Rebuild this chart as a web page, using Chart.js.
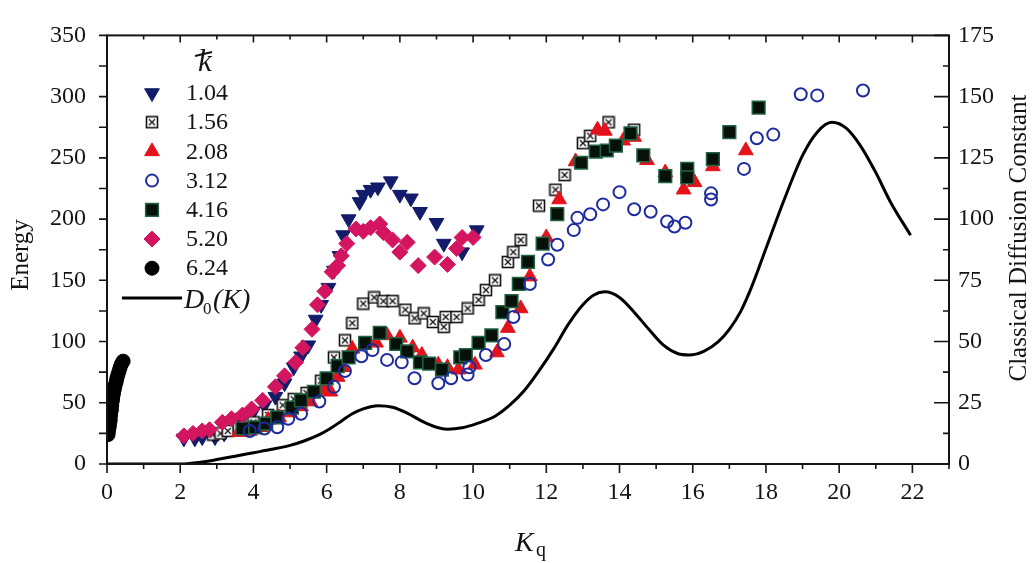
<!DOCTYPE html>
<html>
<head>
<meta charset="utf-8">
<script src="https://cdn.jsdelivr.net/npm/chart.js@4/dist/chart.umd.min.js"></script>
<style>
  html, body { margin: 0; padding: 0; background: #fff; }
  #wrap { width: 1033px; height: 563px; }
</style>
</head>
<body>
<div id="wrap"><canvas id="c" width="1033" height="563"></canvas></div>
<script>
// hbar values shown in the legend
const hbarLabels = ['1.04', '1.56', '2.08', '3.12', '4.16', '5.20', '6.24'];

// Energy vs Kq, one array per hbar
const k104 = [[2.1,21],[2.4,21],[2.6,22],[2.95,22],[3.2,25],[3.5,32],[3.7,38],[4.0,43],[4.3,48],[4.6,55],[4.85,66],[5.1,79],[5.3,88],[5.5,97],[5.7,118],[5.85,130],[6.05,144],[6.2,158],[6.35,170],[6.45,187],[6.6,200],[6.9,214],[7.0,220],[7.2,224],[7.4,226],[7.75,231],[8.0,220],[8.3,217],[8.55,206],[9.0,197],[9.2,180],[9.7,173],[10.1,191]];
const k156 = [[2.9,24],[3.1,25],[3.3,27],[3.6,30],[4.0,34],[4.4,40],[4.8,48],[5.1,53],[5.45,58],[5.85,68],[6.2,87],[6.5,101],[6.7,115],[7.0,131],[7.3,136],[7.55,133],[7.8,133],[8.15,126],[8.4,119],[8.65,123],[8.9,116],[9.2,112],[9.25,120],[9.55,120],[9.85,127],[10.15,134],[10.35,142],[10.6,150],[10.95,165],[11.1,173],[11.3,183],[11.8,211],[12.25,224],[12.5,236],[13.0,262],[13.2,268],[13.7,279],[14.4,273]];
const k208 = [[3.6,26],[3.9,27],[4.2,30],[4.4,36],[4.7,38],[5.0,42],[5.3,47],[5.55,51],[5.95,60],[6.1,59],[6.3,71],[6.45,79],[6.7,94],[7.35,99],[7.65,105],[8.0,103],[8.35,95],[8.6,89],[9.05,81],[9.3,79],[9.6,77],[10.05,81],[10.65,91],[10.95,111],[11.3,127],[11.55,153],[12.0,185],[12.35,216],[12.8,247],[13.4,273],[13.6,272],[14.1,264],[14.4,267],[14.75,248],[15.25,238],[15.75,224],[16.05,230],[16.55,243],[17.45,256]];
const k312 = [[3.9,27],[4.3,29],[4.65,30],[4.95,37],[5.3,41],[5.8,51],[6.2,63],[6.5,76],[6.95,88],[7.25,93],[7.65,85],[8.05,83],[8.4,70],[9.05,66],[9.4,70],[9.85,73],[9.9,79],[10.35,89],[10.85,98],[11.1,120],[11.55,147],[12.05,167],[12.3,179],[12.75,191],[12.85,201],[13.2,204],[13.55,212],[14.0,222],[14.4,208],[14.85,206],[15.3,198],[15.5,194],[15.8,197],[16.5,221],[16.5,216],[17.4,241],[17.75,266],[18.2,269],[18.95,302],[19.4,301],[20.65,305]];
const k416 = [[3.7,29],[4.05,30],[4.35,33],[4.65,38],[5.05,46],[5.3,52],[5.65,59],[6.0,70],[6.3,80],[6.6,87],[7.05,99],[7.45,107],[7.9,98],[8.2,92],[8.55,83],[8.8,82],[9.15,77],[9.65,87],[9.8,89],[10.15,99],[10.5,105],[10.8,124],[11.05,133],[11.25,147],[11.5,165],[11.9,180],[12.3,204],[12.95,246],[13.35,255],[13.65,256],[13.9,260],[14.3,270],[14.65,252],[15.25,235],[15.85,241],[15.85,234],[16.55,249],[17.0,271],[17.8,291]];
const k520 = [[2.1,23],[2.35,25],[2.6,27],[2.8,28],[3.15,34],[3.4,37],[3.7,40],[3.95,45],[4.25,52],[4.6,63],[4.85,72],[5.15,83],[5.35,95],[5.6,110],[5.75,130],[5.95,141],[6.15,157],[6.3,162],[6.4,170],[6.55,180],[6.8,192],[7.0,190],[7.2,193],[7.45,196],[7.55,189],[7.8,183],[8.0,173],[8.2,181],[8.5,162],[8.95,169],[9.3,163],[9.55,176],[9.7,185],[10.0,185]];
const k624 = [[0.03,24],[0.04,27],[0.06,30],[0.07,33],[0.09,36],[0.1,40],[0.12,44],[0.13,48],[0.15,52],[0.16,55],[0.18,58],[0.2,61],[0.22,64],[0.25,67],[0.27,70],[0.3,73],[0.33,76],[0.36,79],[0.4,82],[0.44,84]];

// classical diffusion constant D0(K), right axis
const d0K = [0,1,2.0,2.3,2.7,3.0,3.5,4.0,4.5,5.0,5.4,5.8,6.1,6.4,6.7,7.0,7.4,7.8,8.2,8.6,9.0,9.3,9.7,10.1,10.6,11.0,11.4,11.8,12.2,12.6,13.0,13.3,13.6,14.0,14.4,14.8,15.2,15.6,15.9,16.3,16.7,17.0,17.3,17.6,18.0,18.5,19.0,19.4,19.8,20.2,20.6,21.0,21.4,21.95];
const d0Val = [0,0,0,0.3,1,1.8,3.2,4.6,6,7.6,9.5,12,14.5,17.5,20.5,22.5,23.8,23.2,20.8,17.5,15,14.2,14.8,16.5,19.5,24,30,38,47,57,65,69,70.3,68,62,55,48.5,45,44.5,46,50,55,62,72,88,108,126,135.5,139.5,137,129.5,119,107,93.4];

const xTicks = [0, 2, 4, 6, 8, 10, 12, 14, 16, 18, 20, 22];

const serif = "'Liberation Serif', 'DejaVu Serif', serif";
const ink = '#141414';

// square with an X inside, for the 1.56 series
function crossBox() {
    const cv = document.createElement('canvas');
    cv.width = 14; cv.height = 14;
    const g = cv.getContext('2d');
    g.fillStyle = '#fff';
    g.fillRect(1, 1, 12, 12);
    g.strokeStyle = '#111';
    g.lineWidth = 1.6;
    g.strokeRect(1.5, 1.5, 11, 11);
    g.lineWidth = 1.3;
    g.beginPath();
    g.moveTo(4, 4); g.lineTo(10, 10);
    g.moveTo(10, 4); g.lineTo(4, 10);
    g.stroke();
    return cv;
}

const toPts = arr => arr.map(p => ({ x: p[0], y: p[1] }));

const markerSets = [
    { data: k104, pointStyle: 'triangle', rotation: 180, radius: 8.5, bg: '#121c6a', border: '#121c6a', bw: 1, order: 7 },
    { data: k156, pointStyle: crossBox(), rotation: 0, radius: 7, bg: '#fff', border: '#111', bw: 1, order: 6 },
    { data: k208, pointStyle: 'triangle', rotation: 0, radius: 8.5, bg: '#e3131c', border: '#e3131c', bw: 1, order: 5 },
    { data: k312, pointStyle: 'circle', rotation: 0, radius: 6, bg: 'rgba(255,255,255,0)', border: '#1d2b9e', bw: 2, order: 3 },
    { data: k416, pointStyle: 'rect', rotation: 0, radius: 9, bg: '#06110a', border: '#1f6342', bw: 1.5, order: 4 },
    { data: k520, pointStyle: 'rectRot', rotation: 0, radius: 8, bg: '#d3155f', border: '#d3155f', bw: 1, order: 1 },
    { data: k624, pointStyle: 'circle', rotation: 0, radius: 7, bg: '#000', border: '#000', bw: 1, order: 2 }
];

const datasets = markerSets.map((m, i) => ({
    type: 'scatter',
    label: hbarLabels[i],
    data: toPts(m.data),
    yAxisID: 'y',
    pointStyle: m.pointStyle,
    rotation: m.rotation,
    pointRadius: m.radius,
    pointBackgroundColor: m.bg,
    pointBorderColor: m.border,
    pointBorderWidth: m.bw,
    order: m.order
}));

datasets.push({
    type: 'line',
    label: 'D0(K)',
    data: d0K.map((k, i) => ({ x: k, y: d0Val[i] })),
    yAxisID: 'y2',
    borderColor: '#000',
    borderWidth: 3,
    pointRadius: 0,
    fill: false,
    cubicInterpolationMode: 'monotone',
    order: 9
});

// frame, tick marks, axis titles and legend drawn on top of the library scales
const decor = {
    id: 'decor',
    afterDraw(chart) {
        const ctx = chart.ctx;
        const a = chart.chartArea;
        const sx = chart.scales.x, sy = chart.scales.y, sy2 = chart.scales.y2;
        ctx.save();
        ctx.strokeStyle = ink;
        ctx.lineWidth = 2;
        ctx.strokeRect(a.left, a.top, a.right - a.left, a.bottom - a.top);

        ctx.lineWidth = 1.6;
        ctx.beginPath();
        for (let v = 0; v <= 23; v++) {
            const px = sx.getPixelForValue(v);
            const major = v % 2 === 0;
            ctx.moveTo(px, a.bottom); ctx.lineTo(px, a.bottom + (major ? 9 : 5));
            ctx.moveTo(px, a.top); ctx.lineTo(px, a.top + (major ? 7 : 4));
        }
        for (let v = 0; v <= 350; v += 25) {
            const py = sy.getPixelForValue(v);
            ctx.moveTo(a.left, py); ctx.lineTo(a.left - 8, py);
        }
        for (let v = 0; v <= 175; v += 12.5) {
            const py = sy2.getPixelForValue(v);
            const major = v % 25 === 0;
            ctx.moveTo(a.right, py); ctx.lineTo(a.right - (major ? 15 : 6), py);
        }
        ctx.stroke();

        // axis titles
        ctx.fillStyle = ink;
        ctx.textBaseline = 'alphabetic';
        ctx.font = 'italic 28px ' + serif;
        ctx.textAlign = 'left';
        ctx.fillText('K', 515, 551);
        ctx.font = '20px ' + serif;
        ctx.fillText('q', 536, 556);

        ctx.textAlign = 'center';
        ctx.textBaseline = 'middle';
        ctx.font = '25px ' + serif;
        ctx.save();
        ctx.translate(21, 255);
        ctx.rotate(-Math.PI / 2);
        ctx.fillText('Energy', 0, 0);
        ctx.restore();
        ctx.save();
        ctx.translate(1019, 238);
        ctx.rotate(-Math.PI / 2);
        ctx.fillText('Classical Diffusion Constant', 0, 0);
        ctx.restore();

        // legend header: k with a stroke
        ctx.font = 'italic 31px ' + serif;
        ctx.textAlign = 'center';
        ctx.textBaseline = 'alphabetic';
        ctx.fillText('k', 205, 71);
        ctx.lineWidth = 2;
        ctx.beginPath();
        ctx.moveTo(195, 56); ctx.lineTo(212, 52);
        ctx.stroke();

        // legend entries
        const metas = chart.data.datasets;
        for (let i = 0; i < hbarLabels.length; i++) {
            const ds = metas[i];
            const y = 93 + i * 29.2;
            ctx.fillStyle = ds.pointBackgroundColor;
            ctx.strokeStyle = ds.pointBorderColor;
            ctx.lineWidth = ds.pointBorderWidth;
            Chart.helpers.drawPoint(ctx, {
                pointStyle: ds.pointStyle,
                rotation: ds.rotation,
                radius: ds.pointRadius,
                borderWidth: ds.pointBorderWidth
            }, 152, y);
            ctx.fillStyle = ink;
            ctx.font = '24px ' + serif;
            ctx.textAlign = 'left';
            ctx.textBaseline = 'middle';
            ctx.fillText(hbarLabels[i], 186, y + 1);
        }
        const ly = 298;
        ctx.strokeStyle = '#000';
        ctx.lineWidth = 3;
        ctx.beginPath();
        ctx.moveTo(122, ly); ctx.lineTo(182, ly);
        ctx.stroke();
        ctx.fillStyle = ink;
        ctx.textBaseline = 'alphabetic';
        ctx.textAlign = 'left';
        ctx.font = 'italic 28px ' + serif;
        ctx.fillText('D', 184, 308);
        ctx.font = '17px ' + serif;
        ctx.fillText('0', 203, 314);
        ctx.font = 'italic 28px ' + serif;
        ctx.fillText('(K)', 213, 308);
        ctx.restore();
    }
};

new Chart(document.getElementById('c').getContext('2d'), {
    data: { datasets },
    options: {
        responsive: false,
        animation: false,
        layout: { padding: { top: 16, left: 0, right: 0, bottom: 0 } },
        plugins: { legend: { display: false }, tooltip: { enabled: false } },
        scales: {
            x: {
                type: 'linear', position: 'bottom', min: 0, max: 23,
                grid: { display: false, drawTicks: false },
                border: { display: false },
                afterFit: s => { s.height = 99; },
                afterBuildTicks: s => { s.ticks = xTicks.map(v => ({ value: v })); },
                ticks: { font: { family: serif, size: 24 }, color: ink, padding: 14, maxRotation: 0, autoSkip: false }
            },
            y: {
                type: 'linear', position: 'left', min: 0, max: 350,
                grid: { display: false, drawTicks: false },
                border: { display: false },
                afterFit: s => { s.width = 107; },
                ticks: { stepSize: 50, font: { family: serif, size: 24 }, color: ink, padding: 21 }
            },
            y2: {
                type: 'linear', position: 'right', min: 0, max: 175,
                grid: { display: false, drawTicks: false },
                border: { display: false },
                afterFit: s => { s.width = 84; },
                ticks: { stepSize: 25, font: { family: serif, size: 24 }, color: ink, padding: 9 }
            }
        }
    },
    plugins: [decor]
});
</script>
</body>
</html>
